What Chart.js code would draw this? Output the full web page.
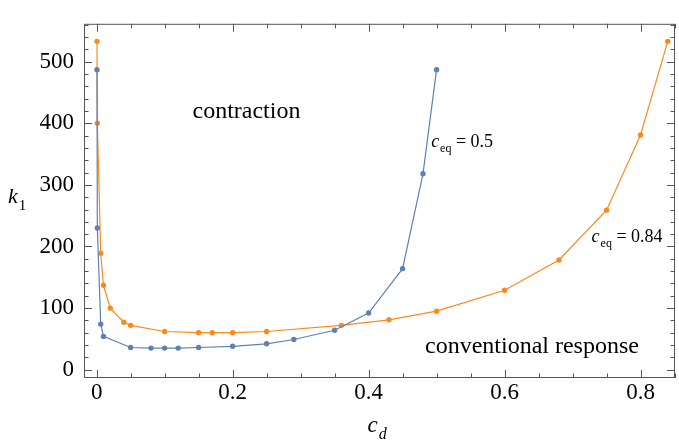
<!DOCTYPE html>
<html>
<head>
<meta charset="utf-8">
<script src="https://cdn.jsdelivr.net/npm/chart.js@4"></script>
<style>
  html, body { margin: 0; padding: 0; background: #fff; }
  #chart { display: block; }
</style>
</head>
<body>
<canvas id="chart" width="679" height="444"></canvas>
<script>
// data
const blueX = [0.0005, 0.001, 0.006, 0.01, 0.05, 0.08, 0.1, 0.12, 0.15, 0.2, 0.25, 0.29, 0.35, 0.4, 0.45, 0.48, 0.5];
const blueY = [487, 230, 74, 54, 36, 35, 35, 35, 36, 38, 42, 49, 64, 92, 164, 318, 487];
const orangeX = [0.0005, 0.001, 0.006, 0.01, 0.02, 0.04, 0.05, 0.1, 0.15, 0.17, 0.2, 0.25, 0.36, 0.43, 0.5, 0.6, 0.68, 0.75, 0.8, 0.84];
const orangeY = [533, 400, 189, 137, 100, 77, 72, 62, 60, 60, 60, 62, 72, 81, 95, 129, 178, 259, 381, 533];

const xMajor = [0, 0.2, 0.4, 0.6, 0.8];
const yMajor = [0, 100, 200, 300, 400, 500];
const xMinorStep = 0.05;
const yMinorStep = 20;

const BLUE = '#5e81b5';
const ORANGE = '#fb8a1c';
const SERIF = '"Liberation Serif", "DejaVu Serif", serif';

function toPoints(xs, ys) {
  return xs.map((x, i) => ({ x, y: ys[i] }));
}

function fmtX(v) {
  return v === 0 ? '0' : v.toFixed(1);
}

// draw "main_sub rest" with a subscript
function drawSub(ctx, x, y, main, sub, rest, size, subItalic) {
  ctx.save();
  ctx.fillStyle = '#000';
  ctx.textBaseline = 'alphabetic';
  ctx.textAlign = 'left';
  ctx.font = `italic ${size}px ${SERIF}`;
  ctx.fillText(main, x, y);
  let cx = x + ctx.measureText(main).width + 1;
  const subSize = Math.round(size * 0.68);
  ctx.font = `${subItalic ? 'italic ' : ''}${subSize}px ${SERIF}`;
  ctx.fillText(sub, cx, y + size * 0.3);
  cx += ctx.measureText(sub).width;
  if (rest) {
    ctx.font = `${size}px ${SERIF}`;
    ctx.fillText(rest, cx, y);
  }
  ctx.restore();
}

// frame + inward ticks on all four sides, plus labels
const framePlugin = {
  id: 'frame',
  afterDraw(chart) {
    const { ctx, chartArea: a, scales } = chart;
    const xs = scales.x, ys = scales.y;
    ctx.save();
    ctx.strokeStyle = '#555';
    ctx.lineWidth = 1;
    ctx.strokeRect(a.left + 0.5, a.top + 0.5, a.right - a.left - 1, a.bottom - a.top - 1);

    ctx.beginPath();
    for (let v = 0; v <= xs.max + 1e-9; v += xMinorStep) {
      const major = xMajor.some(m => Math.abs(m - v) < 1e-6);
      const len = major ? 8 : 4.5;
      const px = Math.round(xs.getPixelForValue(v)) + 0.5;
      ctx.moveTo(px, a.bottom); ctx.lineTo(px, a.bottom - len);
      ctx.moveTo(px, a.top); ctx.lineTo(px, a.top + len);
    }
    for (let v = 0; v <= ys.max + 1e-9; v += yMinorStep) {
      const major = yMajor.includes(Math.round(v));
      const len = major ? 8 : 4.5;
      const py = Math.round(ys.getPixelForValue(v)) + 0.5;
      ctx.moveTo(a.left, py); ctx.lineTo(a.left + len, py);
      ctx.moveTo(a.right, py); ctx.lineTo(a.right - len, py);
    }
    ctx.stroke();

    // region labels
    ctx.fillStyle = '#000';
    ctx.font = `24px ${SERIF}`;
    ctx.textBaseline = 'alphabetic';
    ctx.fillText('contraction', xs.getPixelForValue(0.141), ys.getPixelForValue(408));
    ctx.fillText('conventional response', xs.getPixelForValue(0.483), ys.getPixelForValue(27));

    // curve labels
    drawSub(ctx, xs.getPixelForValue(0.492), ys.getPixelForValue(362), 'c', 'eq', ' = 0.5', 18, false);
    drawSub(ctx, xs.getPixelForValue(0.728), ys.getPixelForValue(208), 'c', 'eq', ' = 0.84', 18, false);

    // axis titles
    drawSub(ctx, 8, (a.top + a.bottom) / 2 + 2, 'k', '1', '', 22, false);
    drawSub(ctx, (a.left + a.right) / 2 - 12, 432, 'c', 'd', '', 23, true);
    ctx.restore();
  }
};

function makeSeries(label, xs, ys, color) {
  return {
    label,
    data: toPoints(xs, ys),
    showLine: true,
    borderColor: color,
    backgroundColor: color,
    borderWidth: 1.2,
    pointRadius: 2.7,
    pointBorderWidth: 0,
    pointBackgroundColor: color,
    tension: 0
  };
}

new Chart(document.getElementById('chart'), {
  type: 'scatter',
  data: {
    datasets: [
      makeSeries('c_eq = 0.5', blueX, blueY, BLUE),
      makeSeries('c_eq = 0.84', orangeX, orangeY, ORANGE)
    ]
  },
  options: {
    responsive: false,
    animation: false,
    layout: { padding: { top: 8, right: 2, left: 0, bottom: 0 } },
    plugins: {
      legend: { display: false },
      tooltip: { enabled: false }
    },
    scales: {
      x: {
        type: 'linear',
        min: -0.0186,
        max: 0.8507,
        afterBuildTicks: s => { s.ticks = xMajor.map(v => ({ value: v })); },
        afterFit: s => { s.height = 66; },
        grid: { display: false, drawTicks: false },
        border: { display: false },
        ticks: {
          color: '#000',
          font: { family: SERIF, size: 23 },
          padding: 1,
          maxRotation: 0,
          callback: v => fmtX(v)
        }
      },
      y: {
        type: 'linear',
        min: -13.5,
        max: 561.5,
        afterBuildTicks: s => { s.ticks = yMajor.map(v => ({ value: v })); },
        afterFit: s => { s.width = 84; },
        grid: { display: false, drawTicks: false },
        border: { display: false },
        ticks: {
          color: '#000',
          font: { family: SERIF, size: 23 },
          padding: 10,
          callback: v => String(v)
        }
      }
    }
  },
  plugins: [framePlugin]
});
</script>
</body>
</html>
